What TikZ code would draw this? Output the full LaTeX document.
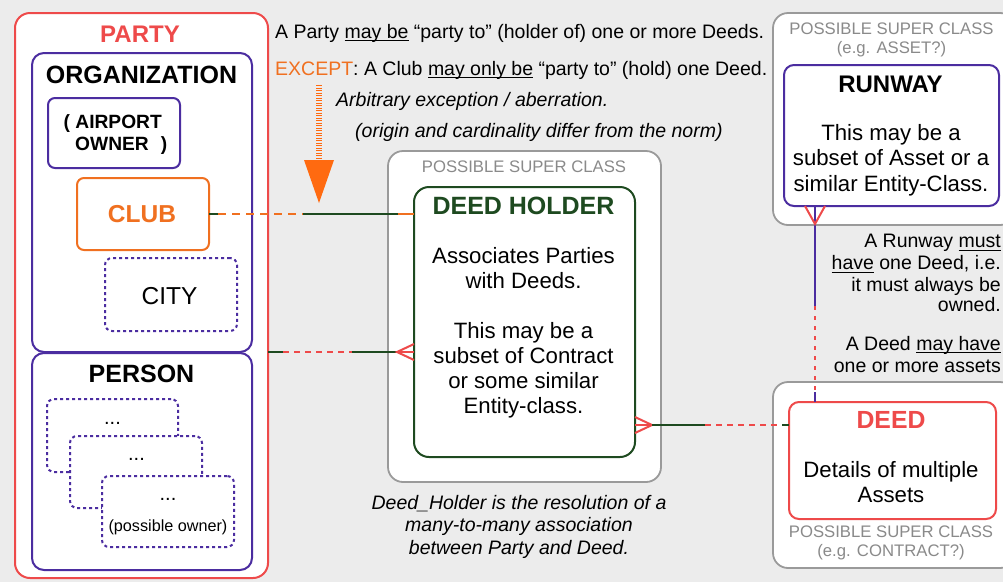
\documentclass[tikz,border=0pt]{standalone}
\usepackage{fontspec}
\setmainfont{Liberation Sans}
\usetikzlibrary{fit,calc}
\definecolor{bg}{HTML}{ECECEC}
\definecolor{pred}{HTML}{EE4A4A}
\definecolor{ppl}{HTML}{4B2DA0}
\definecolor{orng}{HTML}{F07020}
\definecolor{arrc}{HTML}{FF6A10}
\definecolor{dgreen}{HTML}{1E4A20}
\definecolor{gborder}{HTML}{9A9A9A}
\definecolor{gtext}{HTML}{8A8A8A}
\newcommand\myul[1]{{\setbox0=\hbox{#1}\rlap{\rule[-3.2pt]{\wd0}{1.1pt}}\box0}}
\tikzset{
  box/.style={inner sep=0pt, outer sep=0pt, draw, line width=2pt, fill=white},
  dotbox/.style={box, draw=ppl, dash pattern=on 3pt off 3pt, rounded corners=7pt},
  ann/.style={font=\fontsize{19.5}{23}\selectfont, inner sep=0pt, anchor=base west},
  annr/.style={font=\fontsize{19.5}{23}\selectfont, inner sep=0pt, anchor=base east},
  anni/.style={font=\fontsize{19.5}{23}\selectfont\itshape, inner sep=0pt, anchor=base west},
  capt/.style={font=\fontsize{19.5}{23}\selectfont\itshape, inner sep=0pt, anchor=base},
  bodyt/.style={font=\fontsize{22.2}{25}\selectfont, inner sep=0pt, anchor=base},
  titlet/.style={font=\fontsize{25}{28}\selectfont\bfseries, inner sep=0pt, anchor=base},
  glabel/.style={font=\fontsize{16.7}{19}\selectfont, text=gtext, inner sep=0pt, anchor=base},
  gl/.style={dgreen, line width=2pt},
  pl/.style={ppl, line width=2pt},
  ol/.style={orng, line width=2pt},
  rl/.style={pred, line width=2pt},
  odash/.style={ol, dash pattern=on 8pt off 6pt},
  rdash/.style={rl, dash pattern=on 6pt off 5pt},
  rdot/.style={rl, dash pattern=on 4pt off 6pt},
}
\begin{document}
\begin{tikzpicture}[x=1pt,y=-1pt]
\clip (0,0) rectangle (1003,582);
\fill[bg] (0,0) rectangle (1003,582);

% ---------------- boxes ----------------
\node[box, draw=pred, rounded corners=15pt, fit={(15,13) (268,578)}] (party) {};
\node[box, draw=ppl, rounded corners=12pt, fit={(32,53) (252,352)}] (org) {};
\node[box, draw=ppl, rounded corners=12pt, fit={(32,353) (252,570)}] (person) {};
\node[box, draw=ppl, rounded corners=7pt, fit={(48,98) (180,168)}] (airport) {};
\node[box, draw=orng, rounded corners=7pt, fit={(77,178) (209,250)}] (club) {};
\node[dotbox, fit={(105,258) (237,331)}] (city) {};
\node[dotbox, fit={(47,399) (178,472)}] (pa) {};
\node[dotbox, fit={(70,436) (202,508)}] (pb) {};
\node[dotbox, fit={(102,476) (234,547)}] (pc) {};

\node[box, draw=gborder, line width=1.8pt, rounded corners=15pt, fit={(388,151) (661,482)}] (dhsup) {};
\node[box, draw=dgreen, rounded corners=15pt, fit={(414,187) (635,457)}] (dh) {};

\node[box, draw=gborder, line width=1.8pt, rounded corners=15pt, fit={(773,13) (1015,225)}] (rwsup) {};
\node[box, draw=ppl, rounded corners=10pt, fit={(784,65) (999,206)}] (rw) {};

\node[box, draw=gborder, line width=1.8pt, rounded corners=15pt, fit={(773,382) (1015,568)}] (dsup) {};
\node[box, draw=pred, rounded corners=10pt, fit={(789,402) (996,519)}] (deed) {};

% ---------------- box texts ----------------
\node[titlet, text=pred, font=\fontsize{24}{28}\selectfont\bfseries] (tparty) at (140,42.5) {PARTY};
\node[titlet] (torg) at (141.5,83) {ORGANIZATION};
\node[titlet, font=\fontsize{19.2}{22}\selectfont\bfseries, anchor=base west] (tair1) at (63.5,128) {( AIRPORT};
\node[titlet, font=\fontsize{19.2}{22}\selectfont\bfseries, anchor=base west] (tair2) at (75,150) {OWNER\hspace{12pt})};
\node[titlet, text=orng, font=\fontsize{24.5}{28}\selectfont\bfseries] (tclub) at (142,222) {CLUB};
\node[bodyt, font=\fontsize{24.5}{28}\selectfont] (tcity) at (169.5,304) {CITY};
\node[titlet] (tperson) at (141.5,382) {PERSON};
\node[bodyt, font=\fontsize{20}{24}\selectfont] (tda) at (112.5,424) {...};
\node[bodyt, font=\fontsize{20}{24}\selectfont] (tdb) at (136.5,460) {...};
\node[bodyt, font=\fontsize{20}{24}\selectfont] (tdc) at (168,500) {...};
\node[bodyt, font=\fontsize{16.2}{20}\selectfont] (tpo) at (168,531) {(possible owner)};

\node[glabel] (tdhsup) at (524,172) {POSSIBLE SUPER CLASS};
\node[titlet, text=dgreen] (tdh) at (523.5,214) {DEED HOLDER};
\node[bodyt] (tdh1) at (523.5,263) {Associates Parties};
\node[bodyt] (tdh2) at (523.5,288) {with Deeds.};
\node[bodyt] (tdh3) at (523.5,338) {This may be a};
\node[bodyt] (tdh4) at (523.5,363) {subset of Contract};
\node[bodyt] (tdh5) at (523.5,388) {or some similar};
\node[bodyt] (tdh6) at (523.5,413) {Entity-class.};

\node[glabel] (trws1) at (891.5,34) {POSSIBLE SUPER CLASS};
\node[glabel] (trws2) at (891.5,53) {(e.g. ASSET?)};
\node[titlet, font=\fontsize{24}{28}\selectfont\bfseries] (trw) at (890.5,92) {RUNWAY};
\node[bodyt] (trw1) at (891,140) {This may be a};
\node[bodyt] (trw2) at (891,165.5) {subset of Asset or a};
\node[bodyt] (trw3) at (891,191) {similar Entity-Class.};

\node[titlet, text=pred, font=\fontsize{24.8}{28}\selectfont\bfseries] (tdeed) at (891,428) {DEED};
\node[bodyt] (tdeed1) at (891,477) {Details of multiple};
\node[bodyt] (tdeed2) at (891,502) {Assets};
\node[glabel] (tds1) at (891,537.5) {POSSIBLE SUPER CLASS};
\node[glabel] (tds2) at (891,556.5) {(e.g. CONTRACT?)};

% ---------------- annotations ----------------
\node[ann] (n1) at (275,38) {A Party \myul{may be} “party to” (holder of) one or more Deeds.};
\node[ann] (n2) at (275,75) {\textcolor{orng}{EXCEPT}: A Club \myul{may only be} “party to” (hold) one Deed.};
\node[anni] (n3) at (336,106) {Arbitrary exception / aberration.};
\node[anni] (n4) at (355,137) {(origin and cardinality differ from the norm)};

\node[capt] (cap1) at (519,509) {Deed\_Holder is the resolution of a};
\node[capt] (cap2) at (519,531.5) {many-to-many association};
\node[capt] (cap3) at (519,554) {between Party and Deed.};

\node[annr] (r1t) at (1001,247.5) {A Runway \myul{must}};
\node[annr] (r2t) at (1001,269.5) {\myul{have} one Deed, i.e.};
\node[annr] (r3t) at (1001,291) {it must always be};
\node[annr] (r4t) at (1001,311.5) {owned.};
\node[annr] (r5t) at (1001,350) {A Deed \myul{may have}};
\node[annr] (r6t) at (1001,372) {one or more assets};

% ---------------- orange arrow ----------------
\coordinate (a1) at (319,85);
\coordinate (a2) at (319,160);
\coordinate (a3) at (319,203);
\draw[arrc, line width=6pt, dash pattern=on 1.4pt off 1.1pt] (a1) -- (a2);
\fill[arrc] ($(a2)+(-15,0)$) -- ($(a2)+(15,0)$) -- (a3) -- cycle;

% ---------------- connectors ----------------
% Club -- Deed Holder
\coordinate (c1) at (218,214);
\coordinate (c2) at (303,214);
\coordinate (c3) at (398,214);
\draw[gl] (club.east) -- (c1);
\draw[odash] (c1) -- (c2);
\draw[gl] (c2) -- (c3);
\draw[ol] (c3) -- (dh.west |- club.east);

% Party/Person -- Deed Holder (many)
\coordinate (q1) at (283,352);
\coordinate (q2) at (352,352);
\coordinate (q3) at (397,352);
\draw[gl] (party.east |- org.south) -- (q1);
\draw[rdash] (q1) -- (q2);
\draw[gl] (q2) -- (q3);
\draw[rl] ($(dh.west |- org.south)+(0,-8)$) -- (q3) -- ($(dh.west |- org.south)+(0,8)$);
\draw[rl] (q3) -- (dh.west |- org.south);

% Deed Holder (many) -- Deed
\coordinate (d1) at (652,425);
\coordinate (d2) at (705,425);
\coordinate (d3) at (782,425);
\draw[rl] ($(dh.east |- d1)+(0,-8)$) -- (d1) -- ($(dh.east |- d1)+(0,8)$);
\draw[rl] (dh.east |- d1) -- (d1);
\draw[gl] (d1) -- (d2);
\draw[rdash] (d2) -- (d3);
\draw[gl] (d3) -- (deed.west |- d1);

% Runway (many) -- Deed
\coordinate (s1) at (815,224);
\coordinate (s2) at (815,306);
\coordinate (s3) at (815,392);
\draw[pl] (rw.south -| s1) -- (s2);
\draw[rl] ($(rw.south -| s1)+(-10,0)$) -- (s1) -- ($(rw.south -| s1)+(10,0)$);
\draw[rdot] (s2) -- (s3);
\draw[pl] (s3) -- (deed.north -| s1);
\end{tikzpicture}
\end{document}
